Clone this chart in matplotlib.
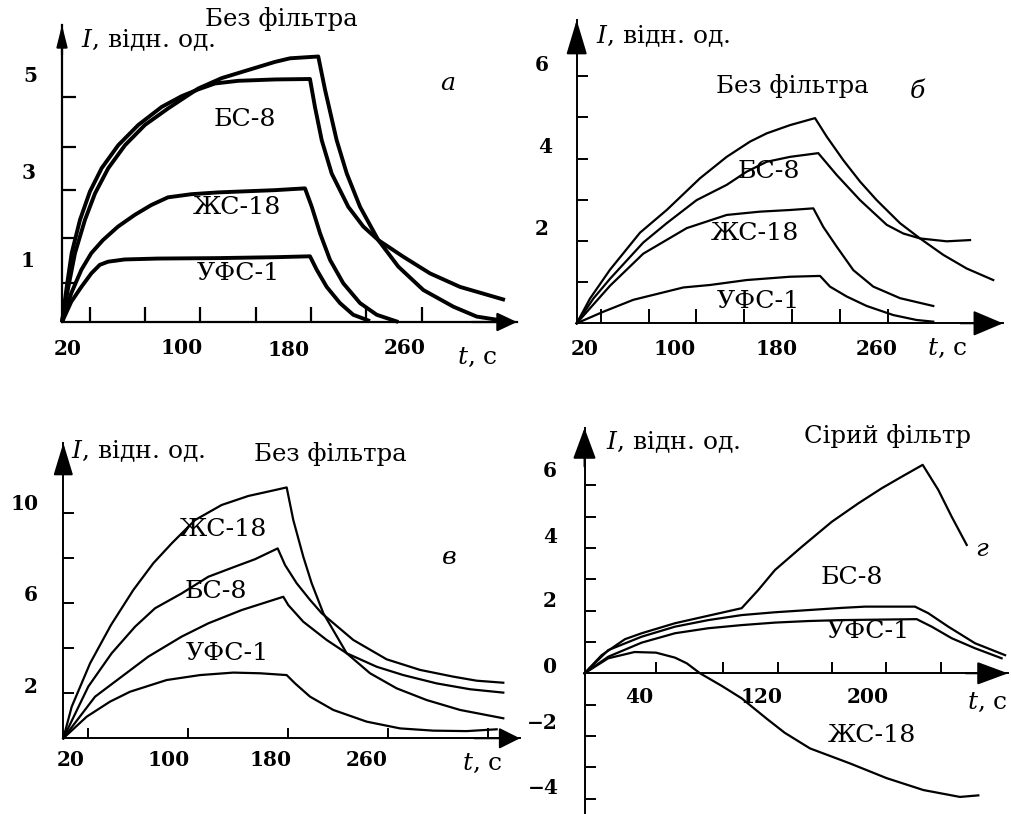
import matplotlib
matplotlib.use('Agg')
import matplotlib.pyplot as plt

plt.rcParams['font.family'] = ['DejaVu Serif']
plt.rcParams['mathtext.fontset'] = 'dejavuserif'

# ---------------- data ----------------
# panel а  (t, s ; I, rel. units)
a_t_free = [20, 24.6, 29.4, 36.6, 43.9, 53.5, 65.6, 80.0, 96.9, 118.6, 135.5, 154.7, 174.0, 184.9, 205.3,
            210.2, 218.6, 225.9, 235.5, 248.7, 263.2, 281.3, 303.0, 319.9, 336.7]
a_I_free = [0, 0.78, 1.53, 2.27, 2.86, 3.42, 3.93, 4.38, 4.75, 5.19, 5.42, 5.60, 5.78, 5.86, 5.90,
            5.16, 4.04, 3.30, 2.56, 1.82, 1.23, 0.71, 0.34, 0.12, 0.04]
a_t_bs8 = [20, 23.4, 27.0, 33.0, 40.2, 48.7, 60.7, 75.2, 92.1, 106.6, 118.6, 130.6, 147.5, 174.0, 199.3,
           202.9, 207.8, 215.0, 227.0, 237.9, 248.7, 266.8, 286.1, 307.8, 340.3]
a_I_bs8 = [0, 0.78, 1.53, 2.27, 2.90, 3.42, 3.93, 4.38, 4.78, 5.02, 5.17, 5.30, 5.36, 5.39, 5.40,
           4.78, 4.04, 3.30, 2.56, 2.12, 1.82, 1.45, 1.08, 0.78, 0.49]
a_t_zs18 = [20, 26.7, 34.0, 41.2, 49.6, 60.5, 72.6, 84.6, 96.6, 113.5, 132.8, 174.0, 195.7,
            200.6, 206.6, 213.8, 223.4, 235.5, 247.6, 263.2]
a_I_zs18 = [0, 0.64, 1.16, 1.53, 1.82, 2.12, 2.38, 2.60, 2.77, 2.84, 2.88, 2.93, 2.97,
            2.56, 1.97, 1.38, 0.86, 0.42, 0.16, 0.0]
a_t_ufs1 = [20, 26.7, 34.0, 41.2, 47.3, 53.3, 65.3, 89.4, 132.8, 174.0, 199.3,
            204.2, 211.4, 221.0, 230.6, 242.7]
a_I_ufs1 = [0, 0.45, 0.78, 1.08, 1.27, 1.34, 1.39, 1.41, 1.42, 1.44, 1.46,
            1.16, 0.78, 0.42, 0.16, 0.02]

# panel б
b_t_free = [20, 31.1, 47.8, 72.9, 95.2, 123.0, 145.3, 164.8, 178.7, 198.2, 219.1,
            228.9, 242.7, 256.7, 270.6, 290.1, 306.8, 326.3, 345.8, 368.0]
b_I_free = [0, 0.60, 1.30, 2.20, 2.75, 3.52, 4.04, 4.41, 4.61, 4.81, 4.98,
            4.53, 3.96, 3.44, 2.99, 2.43, 2.06, 1.66, 1.33, 1.05]
b_t_bs8 = [20, 33.9, 47.8, 75.6, 95.2, 120.2, 145.3, 162.0, 178.7, 198.2, 221.8,
           237.2, 256.7, 279.0, 292.8, 306.8, 329.1, 348.6]
b_I_bs8 = [0, 0.60, 1.08, 1.96, 2.43, 2.99, 3.36, 3.68, 3.92, 4.04, 4.13,
           3.60, 2.99, 2.39, 2.18, 2.06, 1.99, 2.02]
b_t_zs18 = [20, 47.8, 75.6, 111.9, 145.3, 173.1, 198.2, 217.7, 226.0, 237.2, 251.1, 267.8, 290.1, 317.9]
b_I_zs18 = [0, 0.91, 1.69, 2.31, 2.63, 2.71, 2.75, 2.79, 2.34, 1.86, 1.29, 0.89, 0.61, 0.42]
b_t_ufs1 = [20, 42.2, 67.3, 89.6, 109.1, 131.4, 162.0, 198.2, 223.3, 231.6, 245.6, 262.3, 284.5, 304.0, 317.9]
b_I_ufs1 = [0, 0.28, 0.57, 0.73, 0.87, 0.93, 1.05, 1.13, 1.15, 0.89, 0.65, 0.42, 0.20, 0.08, 0.04]

# panel в
c_t_zs18 = [20, 26.7, 41.4, 58.2, 76.0, 92.0, 107.0, 125.4, 146.7, 168.0, 186.7, 198.7,
            204.0, 212.0, 218.7, 228.0, 246.7, 265.4, 286.7, 310.7, 337.4, 372.0]
c_I_zs18 = [0, 1.40, 3.33, 5.04, 6.59, 7.78, 8.68, 9.70, 10.37, 10.77, 11.00, 11.15,
            9.70, 8.07, 6.89, 5.56, 3.78, 2.89, 2.22, 1.70, 1.26, 0.89]
c_t_bs8 = [20, 40.0, 58.7, 77.4, 93.4, 114.7, 136.0, 157.4, 173.4, 191.5,
           197.4, 206.7, 217.4, 226.7, 252.0, 278.7, 305.4, 332.0, 350.7, 372.0]
c_I_bs8 = [0, 2.30, 3.78, 4.96, 5.78, 6.44, 7.18, 7.63, 7.96, 8.44,
           7.70, 6.89, 6.15, 5.56, 4.37, 3.51, 3.04, 2.74, 2.56, 2.47]
c_t_ufs1 = [20, 45.4, 66.7, 88.0, 114.7, 136.0, 162.7, 196.0,
            200.0, 212.0, 230.7, 246.7, 270.7, 292.0, 318.7, 345.4, 372.0]
c_I_ufs1 = [0, 1.85, 2.74, 3.63, 4.52, 5.11, 5.70, 6.29,
            5.92, 5.18, 4.37, 3.78, 3.18, 2.81, 2.44, 2.18, 2.03]
c_t_free = [20, 38.7, 57.4, 73.4, 102.7, 129.4, 156.0, 177.4, 198.7,
            205.4, 217.4, 236.0, 262.7, 289.4, 316.0, 342.7, 366.7]
c_I_free = [0, 0.96, 1.63, 2.07, 2.59, 2.81, 2.92, 2.89, 2.81,
            2.44, 1.85, 1.26, 0.74, 0.44, 0.34, 0.32, 0.40]

# panel г (сірий фільтр)
d_t_bs8 = [0, 12.0, 28.3, 40.0, 63.3, 86.6, 109.9, 121.5, 133.2, 151.9, 172.9, 191.5, 207.8, 221.8, 236.5,
           247.4, 256.8, 267.3]
d_I_bs8 = [0, 0.58, 1.09, 1.28, 1.60, 1.84, 2.08, 2.66, 3.30, 4.04, 4.84, 5.43, 5.91, 6.28, 6.66,
           5.86, 5.00, 4.10]
d_t_free = [0, 16.6, 40.0, 63.3, 86.6, 109.9, 133.2, 156.5, 179.9, 196.2, 231.1, 240.4, 254.4, 273.1, 294.1]
d_I_free = [0, 0.74, 1.17, 1.49, 1.70, 1.86, 1.95, 2.02, 2.09, 2.13, 2.13, 1.92, 1.49, 0.96, 0.58]
d_t_ufs1 = [0, 16.6, 40.0, 63.3, 86.6, 109.9, 133.2, 156.5, 179.9, 232.3, 242.8, 256.8, 273.1, 291.7]
d_I_ufs1 = [0, 0.53, 0.98, 1.28, 1.44, 1.54, 1.62, 1.67, 1.70, 1.73, 1.49, 1.12, 0.80, 0.48]
d_t_zs18 = [0, 16.6, 35.0, 50.0, 63.3, 71.5, 80.8, 95.9, 109.9, 127.4, 140.0, 157.7, 185.7, 211.3, 237.0, 262.6, 275.4]
d_I_zs18 = [0, 0.48, 0.68, 0.66, 0.50, 0.32, 0.0, -0.40, -0.80, -1.45, -1.90, -2.40, -2.88, -3.35, -3.73, -3.95, -3.90]

# tick marks
a_xticks = [40, 80, 120, 160, 200, 240, 280]
a_yticks = [0.86, 1.87, 2.93, 3.88, 5.0]
b_xticks = [40, 80, 120, 160, 200, 240, 280]
b_yticks = [1, 2, 3, 4, 5, 6]
c_xticks = [40, 120, 200, 280, 360]
c_yticks = [2, 4, 6, 8, 10]
d_xticks = [50, 97, 135, 173, 211, 249]
d_yticks = [-4, -3, -2, -1, 1, 2, 3, 4, 5, 6]

# tick label texts
a_xlabels = ['20', '100', '180', '260']
a_ylabels = ['5', '3', '1']
b_xlabels = ['20', '100', '180', '260']
b_ylabels = ['6', '4', '2']
c_xlabels = ['20', '100', '180', '260']
c_ylabels = ['10', '6', '2']
d_xlabels = ['40', '120', '200']
d_ylabels = ['6', '4', '2', '0', '\u22122', '\u22124']

# ---------------- figure ----------------
W, H = 1011, 814
fig = plt.figure(figsize=(W / 100, H / 100), dpi=100)


def fx(px):
    return px / W


def fy(py):
    return 1 - py / H


def make_axes(ox, oy, sx, sy, x0, right, top, bottom, xticks, yticks,
              xtl, ytl, axlw=1.4, zero_spine=False):
    ax = fig.add_axes([fx(ox), fy(bottom), (right - ox) / W, (bottom - top) / H])
    ax.set_xlim(x0, x0 + (right - ox) / sx)
    ax.set_ylim((oy - bottom) / sy, (oy - top) / sy)
    ax.patch.set_alpha(0)
    for s in ('top', 'right'):
        ax.spines[s].set_visible(False)
    for s in ('left', 'bottom'):
        ax.spines[s].set_linewidth(axlw)
    if zero_spine:
        ax.spines['bottom'].set_position(('data', 0))
    ax.set_xticks(xticks)
    ax.set_yticks(yticks)
    ax.tick_params(axis='x', direction='in', length=xtl, width=axlw,
                   labelbottom=False)
    ax.tick_params(axis='y', direction='in', length=ytl, width=axlw,
                   labelleft=False)
    return ax


def arrows(ax, xlen, xwid, ylen, ywid, lw=1.4, zero_y=False):
    ms = 10

    def style(L, Wd):
        return '-|>,head_length=%.3f,head_width=%.3f' % (L / 1.389 / ms, Wd / 2 / 1.389 / ms)
    xc = ('axes fraction', 'data') if zero_y else 'axes fraction'
    ax.annotate('', xy=(1, 0), xytext=(0.9, 0), xycoords=xc,
                arrowprops=dict(arrowstyle=style(xlen, xwid), mutation_scale=ms,
                                color='black', lw=lw, shrinkA=0, shrinkB=0))
    ax.annotate('', xy=(0, 1), xytext=(0, 0.9), xycoords='axes fraction',
                arrowprops=dict(arrowstyle=style(ylen, ywid), mutation_scale=ms,
                                color='black', lw=lw, shrinkA=0, shrinkB=0))


def T(px, py, s, size=16, **kw):
    fig.text(fx(px), fy(py), s, fontsize=size, ha=kw.pop('ha', 'center'),
             va=kw.pop('va', 'center'), **kw)


NUM = dict(size=14.5, fontweight='bold')
TIT = 17.6      # "Без фільтра"
LAB = 18.2      # curve labels
AXL = 18.0      # axis titles

# ----- panel а -----
axa = make_axes(62, 322, 1.383, 45, 20, 517, 25, 322, a_xticks, a_yticks, 11, 10, axlw=1.6)
arrows(axa, 17, 16, 18, 9, lw=1.6)
for t, I in ((a_t_free, a_I_free), (a_t_bs8, a_I_bs8), (a_t_zs18, a_I_zs18), (a_t_ufs1, a_I_ufs1)):
    axa.plot(t, I, color='black', lw=2.8, clip_on=False, solid_capstyle='butt')
T(281, 19, 'Без фільтра', TIT)
T(81, 40, '$I$, відн. од.', AXL, ha='left')
T(448, 83, 'а', LAB, style='italic')
T(245, 120, 'БС-8', LAB)
T(237, 208, 'ЖС-18', LAB)
T(238, 273, 'УФС-1', LAB)
for s, (px, py) in zip(a_xlabels, [(68, 349), (182, 348), (289, 350), (405, 348)]):
    T(px, py, s, **NUM)
for s, (px, py) in zip(a_ylabels, [(30, 76), (29, 173), (28, 261)]):
    T(px, py, s, **NUM)
T(477, 357, '$t$, с', AXL)

# ----- panel б -----
axb = make_axes(576.7, 323.3, 1.197, 41.2, 20, 1003, 20, 323.3, b_xticks, b_yticks, 10, 8)
arrows(axb, 26, 22, 30, 18)
for t, I in ((b_t_free, b_I_free), (b_t_bs8, b_I_bs8), (b_t_zs18, b_I_zs18), (b_t_ufs1, b_I_ufs1)):
    axb.plot(t, I, color='black', lw=1.6, clip_on=False)
T(596, 36, '$I$, відн. од.', AXL, ha='left')
T(792, 86, 'Без фільтра', TIT)
T(917, 92, 'б', LAB, style='italic')
T(769, 172, 'БС-8', LAB)
T(755, 233, 'ЖС-18', LAB)
T(758, 301, 'УФС-1', LAB)
for s, (px, py) in zip(b_xlabels, [(585, 349), (675, 349), (777, 349), (877, 349)]):
    T(px, py, s, **NUM)
for s, (px, py) in zip(b_ylabels, [(542, 65), (545, 147), (542, 229)]):
    T(px, py, s, **NUM)
T(947, 348, '$t$, с', AXL)

# ----- panel в -----
axc = make_axes(63.3, 738.3, 1.25, 22.5, 20, 520, 443, 738.3, c_xticks, c_yticks, 7, 8)
arrows(axc, 18, 18, 28, 17)
for t, I in ((c_t_zs18, c_I_zs18), (c_t_bs8, c_I_bs8), (c_t_ufs1, c_I_ufs1), (c_t_free, c_I_free)):
    axc.plot(t, I, color='black', lw=1.6, clip_on=False)
T(71, 451, '$I$, відн. од.', AXL, ha='left')
T(330, 454, 'Без фільтра', TIT)
T(449, 557, 'в', LAB, style='italic')
T(223, 529, 'ЖС-18', LAB)
T(216, 592, 'БС-8', LAB)
T(227, 653, 'УФС-1', LAB)
for s, (px, py) in zip(c_xlabels, [(71, 760), (169, 760), (271, 760), (367, 760)]):
    T(px, py, s, **NUM)
for s, (px, py) in zip(c_ylabels, [(25, 504), (31, 595), (31, 687)]):
    T(px, py, s, **NUM)
T(482, 763, '$t$, с', AXL)

# ----- panel г -----
axd = make_axes(584.5, 673.3, 1.43, 31.3, 0, 1008, 428, 813, d_xticks, d_yticks, 8, 8,
                zero_spine=True)
arrows(axd, 27, 20, 27, 20, zero_y=True)
for t, I in ((d_t_bs8, d_I_bs8), (d_t_free, d_I_free), (d_t_ufs1, d_I_ufs1), (d_t_zs18, d_I_zs18)):
    axd.plot(t, I, color='black', lw=1.6, clip_on=False)
T(606, 442, '$I$, відн. од.', AXL, ha='left')
T(888, 436, 'Сірий фільтр', TIT)
T(982, 549, 'г', LAB, style='italic')
T(852, 577, 'БС-8', LAB)
T(868, 631, 'УФС-1', LAB)
T(872, 735, 'ЖС-18', LAB)
for s, (px, py) in zip(d_xlabels, [(639, 697), (762, 697), (868, 697)]):
    T(px, py, s, **NUM)
for s, (px, py) in zip(d_ylabels, [(550, 471), (550, 537), (550, 601), (550, 667), (542, 723), (543, 788)]):
    T(px, py, s, **NUM)
T(987, 702, '$t$, с', AXL)

fig.savefig('out.png', dpi=100)
